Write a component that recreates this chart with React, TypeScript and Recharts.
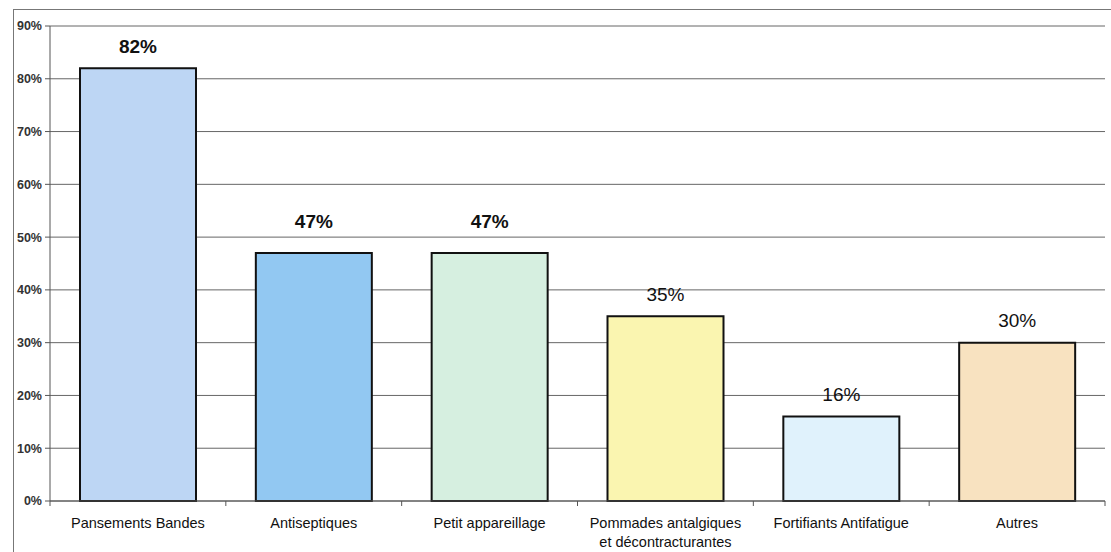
import React from 'react';
import { BarChart, Bar, XAxis, YAxis, CartesianGrid, Cell, LabelList, Text } from 'recharts';

const categories = [
  'Pansements Bandes',
  'Antiseptiques',
  'Petit appareillage',
  'Pommades antalgiques et décontracturantes',
  'Fortifiants Antifatigue',
  'Autres',
];
const values = [82, 47, 47, 35, 16, 30];
const yTicks = [0, 10, 20, 30, 40, 50, 60, 70, 80, 90];

const barColors = ['#BDD6F4', '#92C8F2', '#D6EFE0', '#FAF5B0', '#E0F2FC', '#F8E2C0'];
const labelWeights = ['bold', 'bold', 'bold', 'normal', 'normal', 'normal'];
const labelGaps = [22, 31, 31, 22, 22, 22];

const data = categories.map((name, i) => ({ name, value: values[i] }));

const W = 1111;
const H = 552;
const M = { top: 26, right: 6, bottom: 0, left: 10 };
const Y_AXIS_W = 40;
const X_AXIS_H = 51;
const PLOT_LEFT = M.left + Y_AXIS_W;
const PLOT_RIGHT = W - M.right;
const BAND = (PLOT_RIGHT - PLOT_LEFT) / categories.length;
const FONT = '"Liberation Sans", Arial, sans-serif';

const XTick = (props: any) => {
  const { x, y, payload, index } = props;
  const left = x - BAND / 2;
  const right = x + BAND / 2;
  return (
    <g>
      <line x1={left} x2={left} y1={y} y2={y + 5} stroke="#555" strokeWidth={1} />
      {index === categories.length - 1 && (
        <line x1={right} x2={right} y1={y} y2={y + 5} stroke="#555" strokeWidth={1} />
      )}
      <Text
        x={x}
        y={y + 17}
        width={160}
        textAnchor="middle"
        verticalAnchor="start"
        lineHeight={19}
        fontSize={14.5}
        fontFamily={FONT}
        fill="#111"
      >
        {payload.value}
      </Text>
    </g>
  );
};

const ValueLabel = (props: any) => {
  const { x, y, width, value, index } = props;
  return (
    <text
      x={x + width / 2}
      y={y - labelGaps[index]}
      textAnchor="middle"
      dominantBaseline="central"
      fontSize={19}
      fontWeight={labelWeights[index]}
      fontFamily={FONT}
      fill="#111"
    >
      {`${value}%`}
    </text>
  );
};

export default function App() {
  return (
    <div style={{ position: 'absolute', left: 0, top: 0, width: W, height: H, background: '#fff', overflow: 'hidden' }}>
      <div
        style={{
          position: 'absolute',
          left: 13,
          top: 9,
          width: W,
          height: H,
          borderLeft: '1.5px solid #777',
          borderTop: '1.5px solid #777',
        }}
      />
      <div style={{ position: 'absolute', left: 0, top: 0 }}>
        <BarChart width={W} height={H} data={data} margin={M} barSize={116}>
          <CartesianGrid vertical={false} stroke="#666" strokeWidth={1} />
          <XAxis
            dataKey="name"
            height={X_AXIS_H}
            axisLine={{ stroke: '#555', strokeWidth: 1 }}
            tickLine={false}
            tickSize={0}
            tickMargin={0}
            interval={0}
            tick={<XTick />}
          />
          <YAxis
            width={Y_AXIS_W}
            domain={[0, 90]}
            ticks={yTicks}
            interval={0}
            tickFormatter={(v: number) => `${v}%`}
            axisLine={{ stroke: '#555', strokeWidth: 1 }}
            tickLine={{ stroke: '#555' }}
            tickSize={5}
            tickMargin={3}
            tick={{ fontSize: 12.5, fontWeight: 'bold', fontFamily: FONT, fill: '#333' }}
          />
          <YAxis
            yAxisId="right"
            orientation="right"
            width={0}
            domain={[0, 90]}
            tick={false}
            tickLine={false}
            axisLine={{ stroke: '#555', strokeWidth: 1 }}
          />
          <Bar dataKey="value" isAnimationActive={false} stroke="#111" strokeWidth={2}>
            {data.map((d, i) => (
              <Cell key={d.name} fill={barColors[i]} />
            ))}
            <LabelList dataKey="value" content={<ValueLabel />} />
          </Bar>
        </BarChart>
      </div>
    </div>
  );
}
